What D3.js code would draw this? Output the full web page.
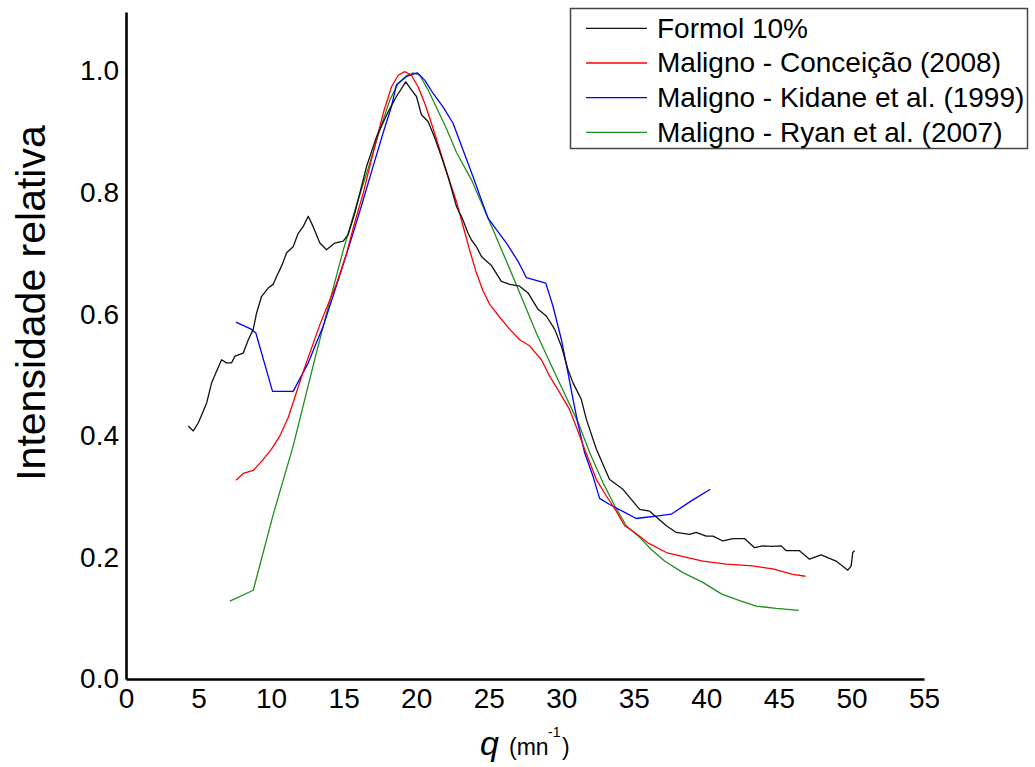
<!DOCTYPE html>
<html><head><meta charset="utf-8">
<script src="https://cdn.jsdelivr.net/npm/d3@7"></script>
<style>
html,body{margin:0;padding:0;background:#fff;}
svg{display:block;font-family:"Liberation Sans",Arial,sans-serif;}
</style>
</head><body>
<svg id="chart" width="1035" height="767"></svg>
<script>
// ---- data ----
const xTicks = [0, 5, 10, 15, 20, 25, 30, 35, 40, 45, 50, 55];
const yTicks = [0.0, 0.2, 0.4, 0.6, 0.8, 1.0];

const seriesNames = ["Formol 10%", "Maligno - Conceição (2008)", "Maligno - Kidane et al. (1999)", "Maligno - Ryan et al. (2007)"];
const seriesColors = ["#111111", "#ff0000", "#0000ff", "#1e8f1e"];

const formolQ = [4.29,4.64,4.98,5.56,5.90,6.24,6.59,6.93,7.28,7.51,8.08,8.43,8.77,9.00,9.34,9.80,10.14,10.38,10.72,11.07,11.52,11.87,12.21,12.56,12.90,13.36,13.82,14.39,14.97,15.31,15.77,16.58,17.27,18.07,18.64,19.28,19.67,20.02,20.36,20.82,21.28,21.74,22.20,22.78,23.00,23.12,23.58,23.81,24.15,24.50,24.72,25.19,25.87,26.45,27.13,27.71,28.40,28.97,29.55,30.01,30.46,30.81,31.38,31.73,32.42,33.33,34.25,35.40,36.09,37.24,37.93,38.84,39.30,39.99,40.45,41.14,41.83,42.63,43.32,43.89,44.58,45.16,45.50,46.42,47.11,47.91,48.94,49.75,49.98,50.09,50.21];
const formolI = [0.416,0.408,0.421,0.454,0.487,0.506,0.525,0.520,0.520,0.531,0.536,0.558,0.575,0.602,0.629,0.643,0.649,0.662,0.679,0.701,0.711,0.733,0.744,0.761,0.744,0.717,0.706,0.717,0.720,0.731,0.766,0.843,0.892,0.933,0.958,0.982,0.969,0.958,0.928,0.917,0.890,0.859,0.826,0.777,0.766,0.761,0.733,0.722,0.711,0.695,0.690,0.680,0.654,0.649,0.646,0.635,0.608,0.597,0.575,0.547,0.509,0.487,0.460,0.427,0.378,0.328,0.312,0.279,0.276,0.252,0.241,0.238,0.241,0.235,0.235,0.227,0.231,0.231,0.216,0.219,0.218,0.219,0.211,0.211,0.197,0.204,0.194,0.179,0.186,0.208,0.211];

const conceicaoQ = [7.58,8.08,8.77,9.34,10.03,10.61,11.18,11.70,12.25,12.80,13.35,13.85,14.51,15.20,15.70,16.35,17.03,17.72,18.30,18.76,19.21,19.67,20.13,20.59,21.05,21.63,22.20,22.78,23.23,23.69,24.15,24.61,25.07,25.76,26.45,27.13,27.82,28.63,29.20,29.89,30.58,30.95,31.61,32.42,33.11,33.79,34.37,35.06,35.97,37.24,38.62,39.76,41.37,43.20,44.58,45.96,46.83];
const conceicaoI = [0.327,0.338,0.343,0.358,0.378,0.400,0.430,0.468,0.508,0.545,0.582,0.612,0.650,0.700,0.745,0.799,0.865,0.930,0.974,0.993,0.999,0.993,0.974,0.947,0.914,0.870,0.826,0.785,0.745,0.705,0.668,0.638,0.616,0.595,0.575,0.558,0.548,0.525,0.498,0.471,0.443,0.420,0.378,0.328,0.301,0.276,0.252,0.241,0.224,0.208,0.200,0.194,0.189,0.186,0.181,0.172,0.169];

const kidaneQ = [7.58,8.66,8.95,10.10,11.52,12.56,13.59,14.45,15.43,16.25,17.03,17.72,18.30,18.64,19.33,20.07,20.59,21.17,21.85,22.54,23.23,23.92,24.95,25.53,26.22,27.02,27.60,28.93,29.43,30.01,30.46,30.81,31.15,31.61,32.18,32.64,33.33,34.37,35.17,35.86,36.55,37.58,38.96,40.27];
const kidaneI = [0.587,0.575,0.569,0.473,0.473,0.520,0.580,0.643,0.716,0.780,0.843,0.898,0.942,0.977,0.991,0.997,0.985,0.963,0.941,0.914,0.870,0.826,0.758,0.739,0.717,0.687,0.660,0.651,0.613,0.558,0.504,0.460,0.420,0.372,0.334,0.297,0.287,0.274,0.264,0.266,0.268,0.271,0.293,0.312];

const ryanQ = [7.16,8.77,10.14,11.52,13.00,14.05,14.97,15.89,16.80,17.49,18.18,18.76,19.33,19.79,20.25,20.82,21.40,22.09,22.78,23.81,25.30,26.91,28.28,29.66,31.20,31.96,32.87,33.68,34.48,35.40,36.20,37.12,38.38,39.76,41.03,42.29,43.44,44.82,46.37];
const ryanI = [0.128,0.146,0.270,0.383,0.525,0.622,0.705,0.780,0.848,0.903,0.952,0.980,0.992,0.997,0.993,0.969,0.940,0.905,0.866,0.821,0.739,0.648,0.569,0.498,0.420,0.372,0.323,0.285,0.252,0.233,0.213,0.194,0.175,0.159,0.140,0.129,0.120,0.116,0.113];

// ---- chart ----
const svg = d3.select("#chart");
const xMax = 55, yMax = 1.097;
const x = d3.scaleLinear().domain([0, xMax]).range([126, 924]);
const y = d3.scaleLinear().domain([0, yMax]).range([679, 12]);

const series = [
  {q: formolQ, v: formolI},
  {q: conceicaoQ, v: conceicaoI},
  {q: kidaneQ, v: kidaneI},
  {q: ryanQ, v: ryanI}
];

const line = d3.line().x(d => x(d[0])).y(d => y(d[1]));

// draw curves
const order = [3, 2, 1, 0];
order.forEach(i => {
  const s = series[i];
  const pts = s.q.map((q, k) => [q, s.v[k]]);
  svg.append("path")
    .attr("d", line(pts))
    .attr("fill", "none")
    .attr("stroke", seriesColors[i])
    .attr("stroke-width", 1.3)
    .attr("stroke-linejoin", "round");
});

// axes
const xAxis = svg.append("g").attr("transform", `translate(0,${y(0)})`)
  .call(d3.axisBottom(x).tickValues(xTicks).tickSize(0).tickSizeOuter(0).tickPadding(9).tickFormat(d3.format("d")));
const yAxis = svg.append("g").attr("transform", `translate(${x(0)},0)`)
  .call(d3.axisLeft(y).tickValues(yTicks).tickSize(0).tickSizeOuter(0).tickPadding(7).tickFormat(d3.format(".1f")));
[xAxis, yAxis].forEach(g => {
  g.select(".domain").attr("stroke", "#000").attr("stroke-width", 2.6);
  g.selectAll("text").attr("font-size", 28).attr("fill", "#000")
    .attr("font-family", '"Liberation Sans", Arial, sans-serif');
});

// y title
svg.append("text")
  .attr("transform", "translate(45,303) rotate(-90)")
  .attr("text-anchor", "middle")
  .attr("font-size", 41)
  .attr("fill", "#000")
  .text("Intensidade relativa");

// x title
const xt = svg.append("g");
xt.append("text").attr("x", 480).attr("y", 755).attr("font-size", 34).attr("font-style", "italic").text("q");
xt.append("text").attr("x", 509).attr("y", 755).attr("font-size", 23).text("(mn");
xt.append("text").attr("x", 548).attr("y", 737).attr("font-size", 14).text("-1");
xt.append("text").attr("x", 562).attr("y", 755).attr("font-size", 23).text(")");

// legend
const lg = svg.append("g");
lg.append("rect").attr("x", 570.5).attr("y", 8.5).attr("width", 457).attr("height", 140)
  .attr("fill", "#fff").attr("stroke", "#444").attr("stroke-width", 1.5);
seriesNames.forEach((name, i) => {
  const ly = 28.3 + i * 34.7;
  lg.append("line").attr("x1", 586).attr("x2", 647).attr("y1", ly).attr("y2", ly)
    .attr("stroke", seriesColors[i]).attr("stroke-width", 1.3);
  lg.append("text").attr("x", 657).attr("y", ly + 9.4).attr("font-size", 28).attr("fill", "#000").text(name);
});
</script>
</body></html>
